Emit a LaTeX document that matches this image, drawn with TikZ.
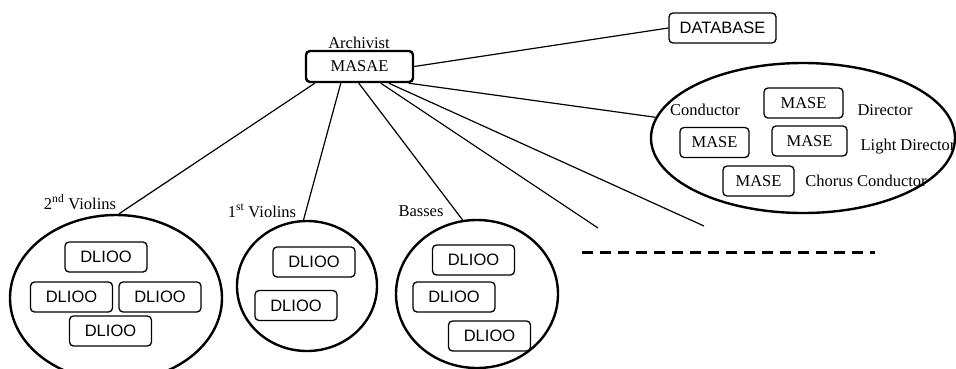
\documentclass[tikz,border=0pt]{standalone}
\usepackage{fontspec}
\setmainfont{Liberation Serif}
\newfontfamily\boxfont{Liberation Sans}
\usetikzlibrary{shapes.geometric,calc}
\begin{document}
\begin{tikzpicture}[x=1pt,y=-1pt,
  every node/.style={font=\fontsize{16.5}{18}\selectfont},
  lbl/.style={anchor=base,inner sep=0pt},
  unit/.style={draw,line width=1.3pt,rounded corners=4pt,inner sep=0pt,
    minimum width=82pt,minimum height=30pt,font=\boxfont\fontsize{16.5}{18}\selectfont},
  mase/.style={draw,line width=1.3pt,rounded corners=4pt,inner sep=0pt,minimum height=30pt},
  group/.style={draw,ellipse,line width=2.4pt,inner sep=0pt},
  link/.style={line width=1.2pt}]
\useasboundingbox (0,0) rectangle (956,368);

% central archivist and the database
\node[mase,line width=2.4pt,minimum width=107pt,minimum height=31pt] (masae) at (359.5,66.5) {MASAE};
\node[lbl] (arch) at (359,48) {Archivist};
\node[unit,minimum width=107pt] (db) at (722.5,28) {DATABASE};

% section ellipses
\node[group,minimum width=212pt,minimum height=166pt] (vtwo) at (116,298) {};
\node[group,minimum width=140pt,minimum height=130pt] (vone) at (307,286) {};
\node[group,minimum width=162pt,minimum height=148pt] (bass) at (477,294) {};
\node[group,minimum width=304pt,minimum height=150pt] (staff) at (803,138) {};

% 2nd violins
\node[unit] (v2a) at (106,257) {DLIOO};
\node[unit] (v2b) at (71.5,297) {DLIOO};
\node[unit] (v2c) at (160,297) {DLIOO};
\node[unit] (v2d) at (110.5,331) {DLIOO};
\node[lbl] (v2l) at (80,209) {2\textsuperscript{nd} Violins};

% 1st violins
\node[unit] (v1a) at (314,262) {DLIOO};
\node[unit] (v1b) at (296,305.5) {DLIOO};
\node[lbl] (v1l) at (262,217) {1\textsuperscript{st} Violins};

% basses
\node[unit] (ba) at (473.5,260) {DLIOO};
\node[unit] (bb) at (454,297) {DLIOO};
\node[unit] (bc) at (489.5,336) {DLIOO};
\node[lbl] (bl) at (421,216) {Basses};

% staff ellipse
\node[mase,minimum width=79pt] (m1) at (803.5,103) {MASE};
\node[mase,minimum width=69pt] (m2) at (714.5,142.5) {MASE};
\node[mase,minimum width=75pt] (m3) at (809.5,141) {MASE};
\node[mase,minimum width=71pt] (m4) at (758.5,181) {MASE};
\node[lbl] (cond) at (705,115) {Conductor};
\node[lbl] (dir) at (885,115) {Director};
\node[lbl] (light) at (908,150) {Light Director};
\node[lbl] (chorus) at (866,186) {Chorus Conductor};

% open ends of the fan and the ellipsis line
\coordinate (e4) at (598,228);
\coordinate (e5) at (704,226);
\coordinate (d1) at (582,252);
\coordinate (d2) at (875,252);

% connectors
\draw[link] (masae.east) -- (db.west);
\draw[link] ($(masae.south west)+(10,0)$) -- (vtwo.88);
\draw[link] ($(masae.south west)+(36,0)$) -- (vone.93);
\draw[link] ($(masae.south west)+(54,0)$) -- (bass.101);
\draw[link] ($(masae.south west)+(76,0)$) -- (e4);
\draw[link] ($(masae.south west)+(84,0)$) -- (e5);
\draw[link] ($(masae.south west)+(104,0)$) -- (staff.172);
\draw[line width=3pt,dash pattern=on 11pt off 7pt] (d1) -- (d2);
\end{tikzpicture}
\end{document}
